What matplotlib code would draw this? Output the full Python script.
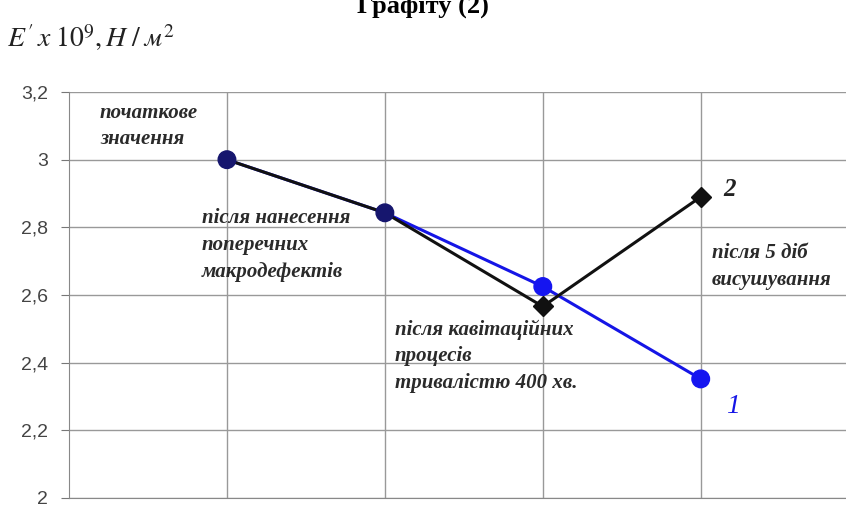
import matplotlib.pyplot as plt
from matplotlib.ticker import FuncFormatter

# stages 1..4 along the x axis
stages = [1, 2, 3, 4]
series_1 = [3.0, 2.843, 2.625, 2.352]   # blue, circles
series_2 = [3.0, 2.843, 2.566, 2.890]   # black, diamonds
y_ticks = [2.0, 2.2, 2.4, 2.6, 2.8, 3.0, 3.2]

stage_labels = [
    "початкове\nзначення",
    "після нанесення\nпоперечних\nмакродефектів",
    "після кавітаційних\nпроцесів\nтривалістю 400 хв.",
    "після 5 діб\nвисушування",
]

serif = ["Liberation Serif", "DejaVu Serif"]

fig = plt.figure(figsize=(8.46, 5.05), dpi=100)
ax = fig.add_axes([0.0816, 0.0139, 0.9184, 0.8039])

ax.set_xlim(0, 4.92)
ax.set_ylim(2.0, 3.2)
ax.set_yticks(y_ticks)
ax.yaxis.set_major_formatter(
    FuncFormatter(lambda v, p: f"{v:g}".replace(".", ","))
)
for lbl in ax.get_yticklabels():
    lbl.set_family(["Liberation Sans", "DejaVu Sans"])
ax.set_xticks(stages)
ax.tick_params(axis="x", length=0, labelbottom=False)
ax.tick_params(axis="y", length=6, color="#777777", labelsize=14,
               labelcolor="#444444", pad=9)
ax.grid(True, color="#999999", linewidth=1.0)
for side in ["top", "right"]:
    ax.spines[side].set_visible(False)
for side in ["left", "bottom"]:
    ax.spines[side].set_color("#888888")

# curve 1 under curve 2
ax.plot(stages, series_1, color="#1515e6", linewidth=2.2, zorder=3)
ax.plot(stages, series_2, color="#111111", linewidth=2.2, zorder=4)
ax.plot(stages[2:], series_2[2:], linestyle="none", marker="D",
        markersize=10, color="#111111", zorder=5)
ax.scatter(stages, series_1, s=160,
           c=["#16166e", "#16166e", "#1515f0", "#1515f0"], zorder=6)

# stage annotations (y = baseline of the last line)
ann_kw = dict(fontsize=15, fontweight="bold", fontstyle="italic",
              family=serif, color="#2a2a2a", va="baseline",
              linespacing=1.45)
ax.text(0.196, 3.045, stage_labels[0], **ann_kw)
ax.text(0.842, 2.654, stage_labels[1], **ann_kw)
ax.text(2.063, 2.325, stage_labels[2], **ann_kw)
ax.text(4.07, 2.630, stage_labels[3], **ann_kw)

ax.text(4.14, 2.912, "2", fontsize=18, fontweight="bold", fontstyle="italic",
        family=serif, color="#222222", va="center")
ax.text(4.16, 2.27, "1", fontsize=20, fontstyle="italic",
        family=serif, color="#1515e6", va="center")

# clipped caption at the very top and the unit label
fig.text(0.5, 1 - 13 / 505, "Графіту (2)", ha="center", va="baseline",
         fontsize=19, fontweight="bold", family=serif)
fig.text(0.008, 0.925, r"$E\,'\,x\;10^9,H\;/\;м^2$", ha="left", va="center",
         fontsize=20, color="#222222",
         math_fontfamily="stix")

fig.savefig("out.png", dpi=100)
